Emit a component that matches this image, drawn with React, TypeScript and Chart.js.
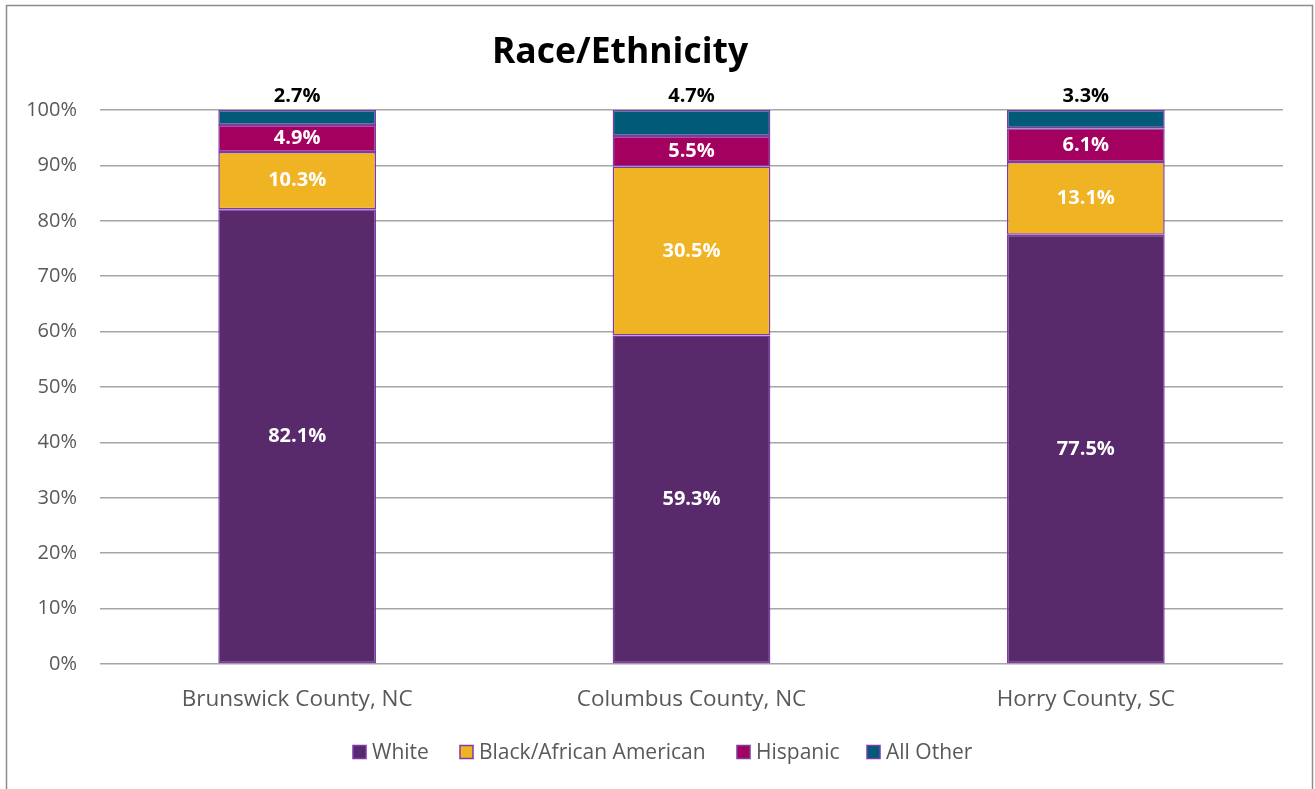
import React, { useEffect, useRef } from "react";
import { Chart, registerables } from "chart.js";

Chart.register(...registerables);

const categories = ["Brunswick County, NC", "Columbus County, NC", "Horry County, SC"];
const seriesNames = ["White", "Black/African American", "Hispanic", "All Other"];
const white = [82.1, 59.3, 77.5];
const black = [10.3, 30.5, 13.1];
const hispanic = [4.9, 5.5, 6.1];
const allOther = [2.7, 4.7, 3.3];
const yTicks = [0, 10, 20, 30, 40, 50, 60, 70, 80, 90, 100];

const colors = ["#592A6B", "#F0B323", "#A3005F", "#005A78"];
const borderColor = "#7E3BA8";
const FONT = "'Open Sans', sans-serif";

const labelPlugin = {
  id: "valueLabels",
  afterDatasetsDraw(chart: any) {
    const ctx = chart.ctx;
    ctx.save();
    ctx.textAlign = "center";
    ctx.textBaseline = "middle";
    chart.data.datasets.forEach((ds: any, di: number) => {
      const meta = chart.getDatasetMeta(di);
      meta.data.forEach((bar: any, i: number) => {
        const v = ds.data[i];
        const txt = v.toFixed(1) + "%";
        ctx.font = `bold 20px ${FONT}`;
        if (di === chart.data.datasets.length - 1) {
          ctx.fillStyle = "#000000";
          ctx.fillText(txt, bar.x, bar.y - 14);
        } else {
          ctx.fillStyle = "#FFFFFF";
          ctx.fillText(txt, bar.x, (bar.y + bar.base) / 2);
        }
      });
    });
    ctx.restore();
  },
};

const framePlugin = {
  id: "frame",
  beforeDraw(chart: any) {
    const ctx = chart.ctx;
    ctx.save();
    ctx.fillStyle = "#FFFFFF";
    ctx.fillRect(0, 0, chart.width, chart.height);
    ctx.strokeStyle = "#8C8C8C";
    ctx.lineWidth = 1.5;
    ctx.strokeRect(6.5, 5.5, 1306, 800);
    ctx.restore();
  },
  afterDraw(chart: any) {
    const ctx = chart.ctx;
    ctx.save();
    // title
    ctx.fillStyle = "#000000";
    ctx.font = `bold 35.5px ${FONT}`;
    ctx.textAlign = "center";
    ctx.textBaseline = "middle";
    ctx.fillText("Race/Ethnicity", 620, 53);
    // legend
    const startXs = [353, 460, 737, 867];
    ctx.font = `21px ${FONT}`;
    ctx.textAlign = "left";
    seriesNames.forEach((name, i) => {
      const x = startXs[i];
      const y = 752;
      ctx.fillStyle = colors[i];
      ctx.fillRect(x, y - 6.5, 13, 13);
      ctx.strokeStyle = borderColor;
      ctx.lineWidth = 1.5;
      ctx.strokeRect(x, y - 6.5, 13, 13);
      ctx.fillStyle = "#595959";
      ctx.fillText(name, x + 19, y + 1);
    });
    ctx.restore();
  },
};

export default function App() {
  const ref = useRef<HTMLCanvasElement | null>(null);
  useEffect(() => {
    if (!ref.current) return;
    const data = [white, black, hispanic, allOther];
    const chart = new Chart(ref.current, {
      type: "bar",
      data: {
        labels: categories,
        datasets: seriesNames.map((name, i) => ({
          label: name,
          data: data[i],
          backgroundColor: colors[i],
          borderColor: borderColor,
          borderWidth: 1.5,
          borderSkipped: false,
          categoryPercentage: 1,
          barPercentage: 0.4,
        })),
      },
      options: {
        responsive: false,
        animation: false,
        layout: { padding: { top: 110, bottom: 65, left: 0, right: 32 } },
        plugins: {
          legend: { display: false },
          title: { display: false },
          tooltip: { enabled: false },
        },
        scales: {
          x: {
            stacked: true,
            grid: { display: false, drawTicks: false },
            border: { display: false },
            ticks: { color: "#595959", font: { family: FONT, size: 22.5 }, padding: 22 },
            afterFit(scale: any) {
              scale.height = 60;
            },
          },
          y: {
            stacked: true,
            min: 0,
            max: 100,
            afterBuildTicks(scale: any) {
              scale.ticks = yTicks.map((v) => ({ value: v }));
            },
            grid: { color: "#A6A6A6", lineWidth: 1.5, drawTicks: false },
            border: { display: false },
            ticks: {
              color: "#595959",
              font: { family: FONT, size: 20 },
              padding: 23,
              callback: (v: any) => v + "%",
            },
            afterFit(scale: any) {
              scale.width = 100;
            },
          },
        },
      },
      plugins: [framePlugin, labelPlugin],
    });
    return () => chart.destroy();
  }, []);
  return (
    <div style={{ position: "fixed", left: 0, top: 0, width: 1315, height: 789, background: "#fff" }}>
      <canvas ref={ref} width={1315} height={789} style={{ display: "block" }} />
    </div>
  );
}
